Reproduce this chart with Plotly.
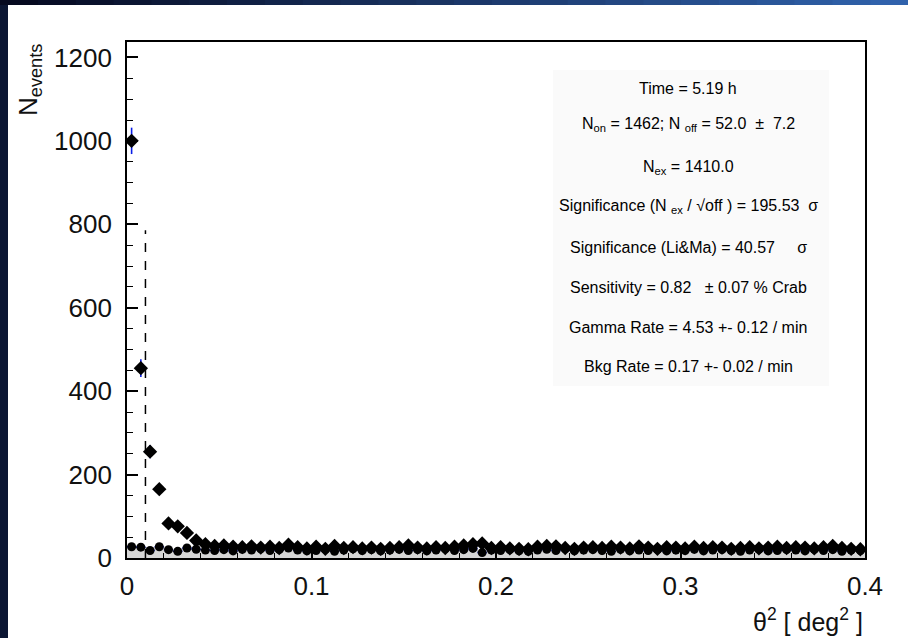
import numpy as np
import plotly.graph_objects as go

# ---- theta^2 histogram data (80 bins of 0.005 deg^2) ----
bin_width = 0.005
theta2_lo = 0.0
theta2_hi = 0.4
theta2_cut = 0.01

on_counts = [
    1000, 455, 255, 165, 83, 76, 60, 42, 33, 29,
    30, 27, 26, 28, 25, 27, 24, 32, 26, 23,
    27, 22, 29, 24, 26, 23, 25, 22, 24, 26,
    30, 25, 23, 26, 24, 27, 30, 33, 35, 24,
    26, 23, 22, 21, 27, 29, 28, 24, 22, 25,
    26, 24, 27, 25, 23, 28, 25, 22, 26, 25,
    23, 27, 24, 26, 25, 22, 24, 26, 23, 25,
    27, 24, 26, 25, 23, 26, 29, 24, 22, 21,
]

off_counts = [
    27, 26, 18, 27, 20, 16, 24, 21, 19, 18,
    20, 17, 21, 19, 22, 18, 20, 24, 19, 17,
    18, 21, 16, 19, 22, 18, 20, 17, 19, 21,
    18, 20, 17, 19, 22, 18, 20, 23, 13, 19,
    18, 20, 17, 16, 19, 21, 18, 22, 17, 19,
    20, 18, 16, 21, 17, 19, 18, 20, 17, 19,
    18, 21, 17, 19, 20, 18, 16, 19, 21, 17,
    18, 20, 19, 17, 21, 18, 20, 16, 19, 18,
]

stats_lines = [
    "Time = 5.19 h",
    "N<sub>on</sub> = 1462; N <sub>off</sub> = 52.0 \u00a0\u00b1\u00a0 7.2",
    "N<sub>ex</sub> = 1410.0",
    "Significance (N <sub>ex</sub> / \u221aoff ) = 195.53 \u00a0\u03c3",
    "Significance (Li&amp;Ma) = 40.57 \u00a0\u00a0\u00a0\u00a0\u03c3",
    "Sensitivity = 0.82 \u00a0\u00a0\u00b1 0.07 % Crab",
    "Gamma Rate = 4.53 +- 0.12 / min",
    "Bkg Rate = 0.17 +- 0.02 / min",
]

n_bins = len(on_counts)
edges = theta2_lo + bin_width * np.arange(n_bins + 1)
centers = (edges[:-1] + bin_width / 2).tolist()
on_err = np.sqrt(on_counts).tolist()
off_err = np.sqrt(off_counts).tolist()

# ---- page geometry (pixels) ----
W, H = 908, 638
L, R, T, B = 127, 43, 42, 80
plot_w = W - L - R
plot_h = H - T - B


def px_x(px):
    return (px - L) / plot_w


def px_y(py):
    return (H - B - py) / plot_h


err_blue = "#0a1ee6"
fig = go.Figure()

# background (off) histogram as a filled grey step
fig.add_trace(go.Scatter(
    x=edges.tolist(),
    y=list(off_counts) + [off_counts[-1]],
    mode="lines",
    line=dict(shape="hv", color="#bcbcbc", width=1),
    fill="tozeroy",
    fillcolor="#d6d6d6",
    hoverinfo="skip",
    showlegend=False,
))

# off-source points
fig.add_trace(go.Scatter(
    x=centers, y=off_counts, mode="markers",
    marker=dict(symbol="circle", size=9, color="black"),
    error_y=dict(type="data", array=off_err, visible=True, color=err_blue,
                 thickness=1.6, width=0),
    error_x=dict(type="constant", value=bin_width / 2, visible=True, color=err_blue,
                 thickness=1.6, width=0),
    showlegend=False,
))

# on-source points
fig.add_trace(go.Scatter(
    x=centers, y=on_counts, mode="markers",
    marker=dict(symbol="diamond", size=11, color="black"),
    error_y=dict(type="data", array=on_err, visible=True, color=err_blue,
                 thickness=1.6, width=0),
    error_x=dict(type="constant", value=bin_width / 2, visible=True, color=err_blue,
                 thickness=1.6, width=0),
    showlegend=False,
))

shapes = []
# theta^2 cut marker
shapes.append(dict(type="line", xref="x", yref="y", x0=theta2_cut, x1=theta2_cut,
                   y0=0, y1=786, line=dict(color="black", width=1.5, dash="dash")))

# statistics box
shapes.append(dict(type="rect", xref="paper", yref="paper",
                   x0=px_x(553), x1=px_x(829), y0=px_y(386), y1=px_y(70),
                   fillcolor="#fafafa", line=dict(width=0), layer="below"))

# dark page borders (left strip + top gradient)
shapes.append(dict(type="rect", xref="paper", yref="paper",
                   x0=px_x(0), x1=px_x(8), y0=px_y(H), y1=px_y(0),
                   fillcolor="#0b1633", line=dict(width=0)))
n_seg = 24
c0 = np.array([6, 10, 32])
c1 = np.array([48, 98, 172])
for i in range(n_seg):
    f = i / (n_seg - 1)
    c = (c0 + (c1 - c0) * f).astype(int)
    shapes.append(dict(type="rect", xref="paper", yref="paper",
                       x0=px_x(W * i / n_seg), x1=px_x(W * (i + 1) / n_seg + 1),
                       y0=px_y(5), y1=px_y(0),
                       fillcolor=f"rgb({c[0]},{c[1]},{c[2]})", line=dict(width=0)))

annotations = []
line_y = [88, 125, 167, 206, 247, 287, 327, 366]
for txt, yy in zip(stats_lines, line_y):
    annotations.append(dict(text=txt, xref="paper", yref="paper",
                            x=px_x(688), y=px_y(yy), xanchor="center", yanchor="middle",
                            showarrow=False,
                            font=dict(family="Liberation Sans, Arial", size=16, color="black")))

# axis titles
annotations.append(dict(text="\u03b8<sup>2</sup> [ deg<sup>2</sup> ]", xref="paper", yref="paper",
                        x=1.0, y=px_y(620), xanchor="right", yanchor="middle", showarrow=False,
                        font=dict(family="Liberation Sans, Arial", size=25, color="#111")))
annotations.append(dict(text="N<sub>events</sub>", xref="paper", yref="paper",
                        x=px_x(29), y=1.0, xanchor="center", yanchor="top", textangle=-90,
                        showarrow=False,
                        font=dict(family="Liberation Sans, Arial", size=26, color="#111")))

axis_font = dict(family="Liberation Sans, Arial", size=26, color="#111")
fig.update_layout(
    width=W, height=H,
    margin=dict(l=L, r=R, t=T, b=B, pad=0),
    paper_bgcolor="white", plot_bgcolor="white",
    shapes=shapes, annotations=annotations,
    xaxis=dict(range=[theta2_lo, theta2_hi], dtick=0.1, tick0=0,
               ticks="inside", ticklen=9, tickwidth=1.5, tickcolor="black",
               minor=dict(dtick=0.02, ticks="inside", ticklen=5, tickwidth=1.2, tickcolor="black"),
               showline=True, linecolor="black", linewidth=1.8, mirror=True,
               showgrid=False, zeroline=False, tickfont=axis_font,
               ticklabelstandoff=4),
    yaxis=dict(range=[0, 1237], dtick=200, tick0=0,
               ticks="inside", ticklen=11, tickwidth=1.5, tickcolor="black",
               minor=dict(dtick=50, ticks="inside", ticklen=6, tickwidth=1.2, tickcolor="black"),
               showline=True, linecolor="black", linewidth=1.8, mirror=True,
               showgrid=False, zeroline=False, tickfont=axis_font,
               ticklabelstandoff=8),
)

fig.write_html("out.html")
